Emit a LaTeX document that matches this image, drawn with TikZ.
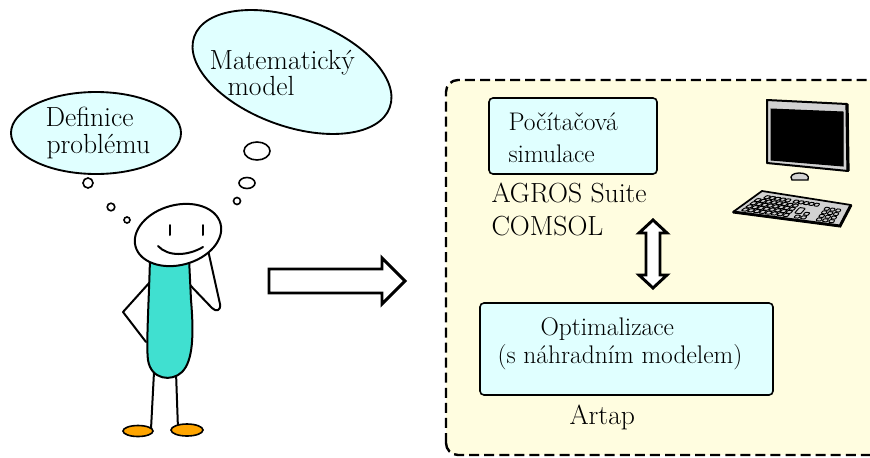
\documentclass[tikz,border=0pt]{standalone}
\usepackage{fontspec}
\usetikzlibrary{calc}

\tikzset{every picture/.style={line width=0.75pt}}
\tikzset{
  bubble/.style={draw, line width=1.4pt, fill={rgb, 255:red, 224; green, 255; blue, 255 }},
  puff/.style={draw, line width=1.2pt, fill=white},
  limb/.style={draw, line width=1.5pt, line join=round, line cap=round},
  shoe/.style={draw, line width=1.2pt, fill={rgb, 255:red, 255; green, 165; blue, 0 }},
  hollow/.style={draw, line width=2.2pt, fill=white, line join=miter},
  simbox/.style={draw, line width=1.2pt, rounded corners=3pt, fill={rgb, 255:red, 224; green, 255; blue, 255 }},
  txt/.style={anchor=base west, inner sep=0pt, font=\huge},
  boxtxt/.style={anchor=base west, inner sep=0pt, font=\fontsize{19.1}{23}\selectfont},
  keycap/.style={draw, line width=0.7pt, rounded corners=0.6pt},
}

% one key of the keyboard, given as (u0,v0) to (u1,v1) inside kbl/kbr/ktl/ktr
\newcommand{\kbkey}[4]{%
  \draw [keycap] ($($(kbl)!#1!(kbr)$)!#2!($(ktl)!#1!(ktr)$)$) -- ($($(kbl)!#3!(kbr)$)!#2!($(ktl)!#3!(ktr)$)$)
    -- ($($(kbl)!#3!(kbr)$)!#4!($(ktl)!#3!(ktr)$)$) -- ($($(kbl)!#1!(kbr)$)!#4!($(ktl)!#1!(ktr)$)$) -- cycle ;}

\begin{document}
\begin{tikzpicture}[x=0.75pt,y=0.75pt,yscale=-1,xscale=1]
\useasboundingbox (0,0) rectangle (870,457);
\clip (0,0) rectangle (870,457);

%Rounded Rect (dashed frame)
\draw [line width=1.8pt, dash pattern=on 7.5pt off 3.8pt, rounded corners=9pt, fill={rgb, 255:red, 255; green, 253; blue, 224 }] (446,455) rectangle (900,80) ;

%Shape: Ellipse
\draw [bubble] (96,133) ellipse (85 and 41) ;
%Shape: Ellipse
\draw [bubble, rotate around={20:(292,72)}] (292,72) ellipse (104 and 54) ;

%Shape: Circles
\draw [puff] (88,183) circle (5) ;
\draw [puff] (111,207) circle (3.8) ;
\draw [puff] (127,220) circle (3) ;
\draw [puff] (257,151) ellipse (13 and 9) ;
\draw [puff] (247,183) ellipse (8 and 5.5) ;
\draw [puff] (237,201) circle (3.5) ;

% Text Node
\node (defa) [txt] at (45,126) {Definice};
\node (defb) [txt] at (46,153) {problému};
\node (mata) [txt] at (209,69) {Matematický};
\node (matb) [txt] at (227,95) {model};

%Straight Lines (legs)
\draw [limb] (154,372) -- (151,429) ;
\draw [limb] (176,372) -- (178,429) ;
%Shape: Ellipse (feet)
\draw [shoe] (138,431) ellipse (15 and 5.5) ;
\draw [shoe] (187,430) ellipse (16 and 6) ;
%Curve Lines (arms)
\draw [limb] (150,282) -- (123,312) -- (146,342) ;
\draw [limb] (189,284) -- (212,308) .. controls (216,312) and (221,311) .. (220,304) -- (208,250) ;
%Shape: Body
\draw [line width=1.5pt, fill={rgb, 255:red, 64; green, 224; blue, 208 }] (150,258) .. controls (149,300) and (146,345) .. (148,360) .. controls (151,380) and (172,382) .. (182,372) .. controls (193,361) and (194,335) .. (191,300) -- (189,258) -- cycle ;
%Shape: Ellipse (head)
\draw [line width=1.5pt, fill=white, rotate around={-15:(178,235)}] (178,235) ellipse (44 and 30) ;
\draw [limb] (170,225) -- (170,235) ;
\draw [limb] (203,225) -- (203,235) ;
\draw [limb] (158,246) .. controls (168,257) and (188,256) .. (203,247) ;

%Shape: Right Arrow
\draw [hollow] (269,269) -- (382,269) -- (382,258) -- (405,281) -- (382,304) -- (382,293) -- (269,293) -- cycle ;

%Rounded Rect
\draw [simbox] (489,98) rectangle (657,174) ;
%Rounded Rect
\draw [simbox] (480,303) rectangle (773,395) ;

% Text Node
\node (sima) [boxtxt] at (508,130) {Počítačová};
\node (simb) [boxtxt] at (508,162) {simulace};
\node (agros) [txt] at (491,202) {AGROS Suite};
\node (comsol) [txt] at (491,235) {COMSOL};
\node (opta) [boxtxt] at (540,335) {Optimalizace};
\node (optb) [boxtxt] at (497,363) {(s náhradním modelem)};
\node (artap) [txt] at (569,424) {Artap};

%Shape: Up Down Arrow
\draw [hollow] (653,220) -- (667,233) -- (660,233) -- (660,275) -- (667,275) -- (653,288) -- (639,275) -- (646,275) -- (646,233) -- (639,233) -- cycle ;

%Monitor
\draw [line width=1pt, fill={rgb, 255:red, 210; green, 210; blue, 210 }] (792,180) .. controls (789,176) and (793,173) .. (799,173) .. controls (805,173) and (810,175) .. (808,180) -- cycle ;
\draw [line width=1.5pt, line join=round, fill={rgb, 255:red, 210; green, 210; blue, 210 }] (767,100) -- (847,104) -- (848,171) -- (767,163) -- cycle ;
\draw [line width=2.4pt] (847,104) -- (848,171) ;
\draw [fill=black] (771,109) -- (843,112) -- (843,166) -- (771,160) -- cycle ;

%Keyboard
\coordinate (kbl) at (733,212) ;
\coordinate (kbr) at (840,226) ;
\coordinate (ktl) at (762,191) ;
\coordinate (ktr) at (851,205) ;
\draw [line width=1.3pt, line join=round, fill={rgb, 255:red, 210; green, 210; blue, 210 }] (kbl) -- (kbr) -- (ktr) -- (ktl) -- cycle ;
\draw [line width=2.2pt] (kbl) -- (kbr) -- (ktr) ;
\foreach \i in {0,...,4} {
  \kbkey{0.10+0.056*\i}{0.72}{0.145+0.056*\i}{0.85}
  \kbkey{0.41+0.056*\i}{0.72}{0.455+0.056*\i}{0.85}
}
\foreach \j in {0,...,3} {
  \foreach \i in {0,...,7} {
    \kbkey{0.05+0.056*\i}{0.10+0.15*\j}{0.095+0.056*\i}{0.23+0.15*\j}
  }
}
\kbkey{0.52}{0.30}{0.58}{0.56}
\kbkey{0.55}{0.10}{0.595}{0.23}
\kbkey{0.61}{0.10}{0.655}{0.23}
\kbkey{0.61}{0.27}{0.655}{0.40}
\foreach \j in {0,...,3} {
  \foreach \i in {0,...,2} {
    \kbkey{0.76+0.06*\i}{0.10+0.17*\j}{0.805+0.06*\i}{0.23+0.17*\j}
  }
}

\end{tikzpicture}
\end{document}
